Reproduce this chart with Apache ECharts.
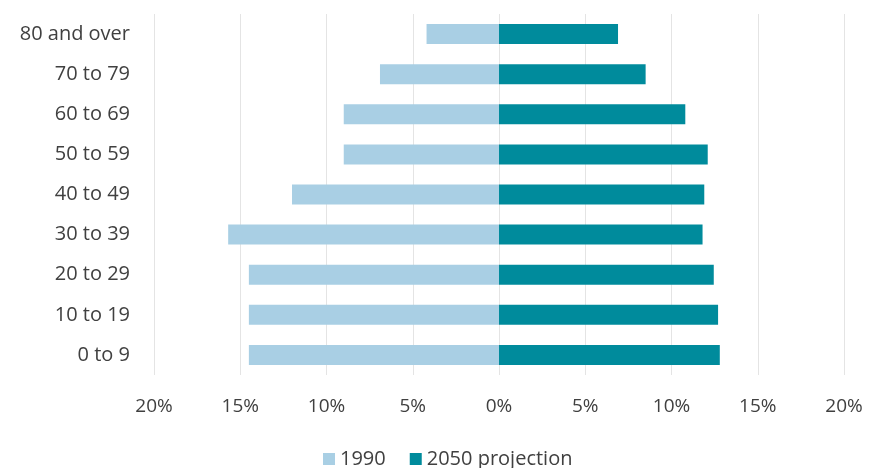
<!DOCTYPE html>
<html>
<head>
<meta charset="utf-8">
<script src="https://cdn.jsdelivr.net/npm/echarts@6/dist/echarts.min.js"></script>
<style>
  html, body { margin: 0; padding: 0; background: #fff; }
  #chart { width: 869px; height: 468px; }
</style>
</head>
<body>
<div id="chart"></div>
<script>
// age groups, bottom to top
const ageGroups = ["0 to 9", "10 to 19", "20 to 29", "30 to 39", "40 to 49", "50 to 59", "60 to 69", "70 to 79", "80 and over"];
// share of population, %
const pop1990 = [14.5, 14.5, 14.5, 15.7, 12.0, 9.0, 9.0, 6.9, 4.2];
const pop2050 = [12.8, 12.7, 12.45, 11.8, 11.9, 12.1, 10.8, 8.5, 6.9];

let myChart = echarts.init(document.getElementById("chart"));
const fontFamily = "'Open Sans', 'Noto Sans', sans-serif";

let option = {
  animation: false,
  textStyle: { fontFamily: fontFamily },
  legend: {
    top: 444,
    left: 318,
    itemWidth: 12,
    itemHeight: 12,
    itemGap: 24,
    icon: "rect",
    textStyle: { fontSize: 20, color: "#404040", fontFamily: fontFamily },
    data: ["1990", "2050 projection"],
  },
  grid: {
    left: 154,
    right: 25,
    top: 14,
    bottom: 93,
  },
  xAxis: {
    type: "value",
    min: -20,
    max: 20,
    interval: 5,
    axisLine: { show: false },
    axisTick: { show: false },
    splitLine: { show: true, lineStyle: { color: "#e4e4e4", width: 1 } },
    axisLabel: {
      margin: 22,
      fontSize: 19,
      color: "#404040",
      formatter: (v) => Math.abs(v) + "%",
    },
  },
  yAxis: {
    type: "category",
    data: ageGroups,
    axisLine: { show: false },
    axisTick: { show: false },
    axisLabel: { fontSize: 20, color: "#404040", margin: 24 },
  },
  series: [
    {
      name: "1990",
      type: "bar",
      stack: "pop",
      barWidth: 20,
      itemStyle: { color: "#a9cfe4" },
      data: pop1990.map((v) => -v),
    },
    {
      name: "2050 projection",
      type: "bar",
      stack: "pop",
      barWidth: 20,
      itemStyle: { color: "#008b9c" },
      data: pop2050,
    },
  ],
};
myChart.setOption(option);
</script>
</body>
</html>
